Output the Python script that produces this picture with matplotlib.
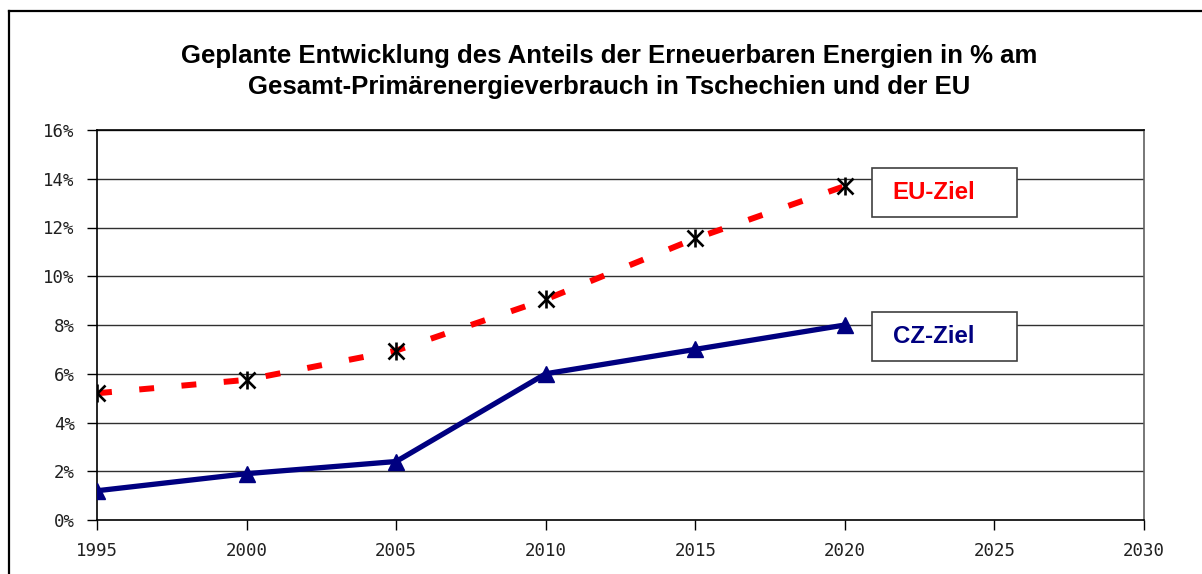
import matplotlib.pyplot as plt
from matplotlib.lines import Line2D
from matplotlib.patches import Rectangle

# data
years = [1995, 2000, 2005, 2010, 2015, 2020]
eu_share = [5.2, 5.75, 6.95, 9.05, 11.55, 13.7]
cz_share = [1.2, 1.9, 2.4, 6.0, 7.0, 8.0]
x_ticks = [1995, 2000, 2005, 2010, 2015, 2020, 2025, 2030]
y_ticks = [0, 2, 4, 6, 8, 10, 12, 14, 16]

title = ("Geplante Entwicklung des Anteils der Erneuerbaren Energien in % am\n"
         "Gesamt-Primärenergieverbrauch in Tschechien und der EU")

fig = plt.figure(figsize=(12.02, 5.74), dpi=100)
fig.patch.set_facecolor('white')

# outer frame: only left and top edges are inside the picture
fx = 8.5 / 1202
fy = 1 - 10.5 / 574
fig.lines.append(Line2D([fx, fx], [0, fy], transform=fig.transFigure,
                        color='black', linewidth=1.6))
fig.lines.append(Line2D([fx, 1], [fy, fy], transform=fig.transFigure,
                        color='black', linewidth=1.6))

ax = fig.add_axes([97 / 1202, 54 / 574, 1047 / 1202, 390 / 574])
ax.set_xlim(1995, 2030)
ax.set_ylim(0, 16)

# grid
for y in y_ticks[1:]:
    ax.axhline(y, color='#303030', linewidth=1.0, zorder=1)

ax.plot(years, eu_share, color='#ff0000', linewidth=4.3,
        dashes=(2.5, 4.6), dash_capstyle='butt', zorder=3)
ax.plot(years, eu_share, linestyle='none', marker='x', markersize=11,
        markeredgecolor='black', markeredgewidth=1.9, zorder=4)
ax.plot(years, eu_share, linestyle='none', marker='|', markersize=13,
        markeredgecolor='black', markeredgewidth=1.9, zorder=4)

ax.plot(years, cz_share, color='#000080', linewidth=3.8, marker='^',
        markersize=11, markerfacecolor='#000080', markeredgecolor='#000080',
        zorder=3)

ax.set_xticks(x_ticks)
ax.set_yticks(y_ticks)
ax.set_yticklabels([str(v) + '%' for v in y_ticks])
ax.tick_params(axis='both', direction='out', length=7, width=1, color='black',
               labelsize=12.5, labelcolor='#202020')
ax.tick_params(axis='x', pad=9)
ax.tick_params(axis='y', pad=9)
for lab in ax.get_xticklabels() + ax.get_yticklabels():
    lab.set_family('DejaVu Sans Mono')

for side in ['left', 'bottom', 'top']:
    ax.spines[side].set_color('black')
    ax.spines[side].set_linewidth(1.2)
ax.spines['right'].set_color('#606060')
ax.spines['right'].set_linewidth(1.2)

# series label boxes
boxes = [("EU-Ziel", '#ff0000', 0.777), ("CZ-Ziel", '#000080', 0.4077)]
for text, col, y0 in boxes:
    ax.add_patch(Rectangle((0.740, y0), 0.1385, 0.125, transform=ax.transAxes,
                           facecolor='white', edgecolor='#404040',
                           linewidth=1.2, zorder=5, clip_on=False))
    ax.text(0.760, y0 + 0.0625, text, transform=ax.transAxes, color=col,
            fontsize=17.3, fontweight='bold', family='Liberation Sans',
            ha='left', va='center', zorder=6)

fig.text(0.507, 0.8754, title, ha='center', va='center', fontsize=18.5,
         fontweight='bold', family='Liberation Sans', linespacing=1.38)

fig.savefig('out.png', dpi=100)
